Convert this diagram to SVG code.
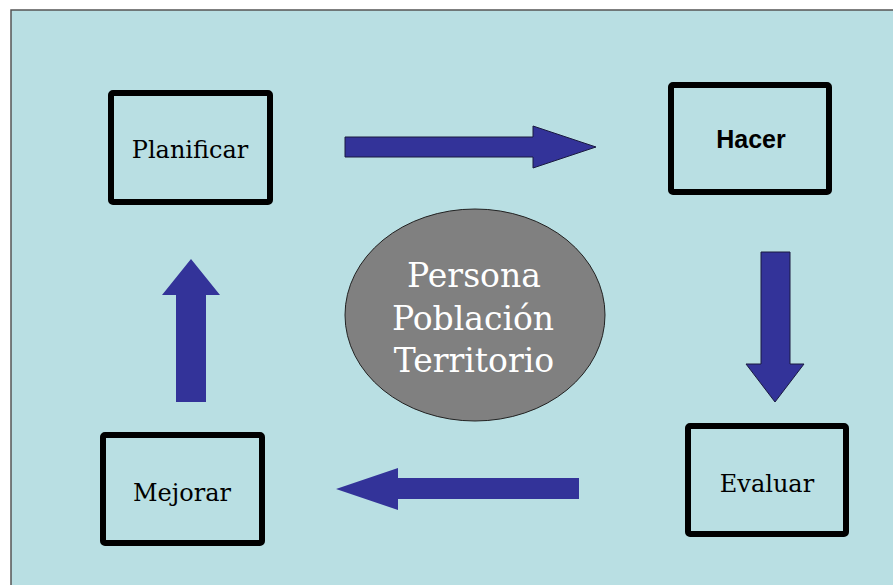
<svg xmlns="http://www.w3.org/2000/svg" width="893" height="585" viewBox="0 0 893 585">
<style>
.box{fill:none;stroke:#000;stroke-width:6;stroke-linejoin:round}
.lbl{font-family:"DejaVu Serif","Liberation Serif",serif;font-size:24px;fill:#000;text-anchor:middle}
.arr{fill:#333399}
.arro{fill:#333399;stroke:#1a1a40;stroke-width:1}
.ctr{font-family:"DejaVu Serif","Liberation Serif",serif;font-size:33px;fill:#fff;text-anchor:middle}
</style>
<rect x="0" y="0" width="893" height="585" fill="#fff"/>
<rect x="11" y="10" width="890" height="590" fill="#b9dfe3" stroke="#555" stroke-width="1.5"/>
<g id="center">
<ellipse cx="475" cy="315" rx="130" ry="106" fill="#808080" stroke="#222" stroke-width="1"/>
<text class="ctr" x="474" y="287">Persona</text>
<text class="ctr" x="473" y="330">Población</text>
<text class="ctr" x="474" y="372">Territorio</text>
</g>
<g id="planificar">
<rect class="box" x="111" y="93" width="159" height="109" rx="2"/>
<text class="lbl" x="190" y="158">Planificar</text>
</g>
<g id="hacer">
<rect class="box" x="671" y="85" width="158" height="107" rx="2"/>
<text x="751" y="148" font-family="Liberation Sans, Arial, sans-serif" font-weight="bold" font-size="25" text-anchor="middle" fill="#000">Hacer</text>
</g>
<g id="evaluar">
<rect class="box" x="688" y="426" width="158" height="108" rx="2"/>
<text class="lbl" x="767" y="492">Evaluar</text>
</g>
<g id="mejorar">
<rect class="box" x="103" y="435" width="159" height="108" rx="2"/>
<text class="lbl" x="182" y="501">Mejorar</text>
</g>
<g id="connectors">
<polygon class="arro" points="345,137 533,137 533,126 596,147 533,168 533,157 345,157"/>
<polygon class="arro" points="761,252 790,252 790,364 804,364 775,402 746,364 761,364"/>
<polygon class="arr" points="579,478 398,478 398,468 336,489 398,510 398,499 579,499"/>
<polygon class="arr" points="176,402 176,295 162,295 191,259 220,295 206,295 206,402"/>
</g>
</svg>
